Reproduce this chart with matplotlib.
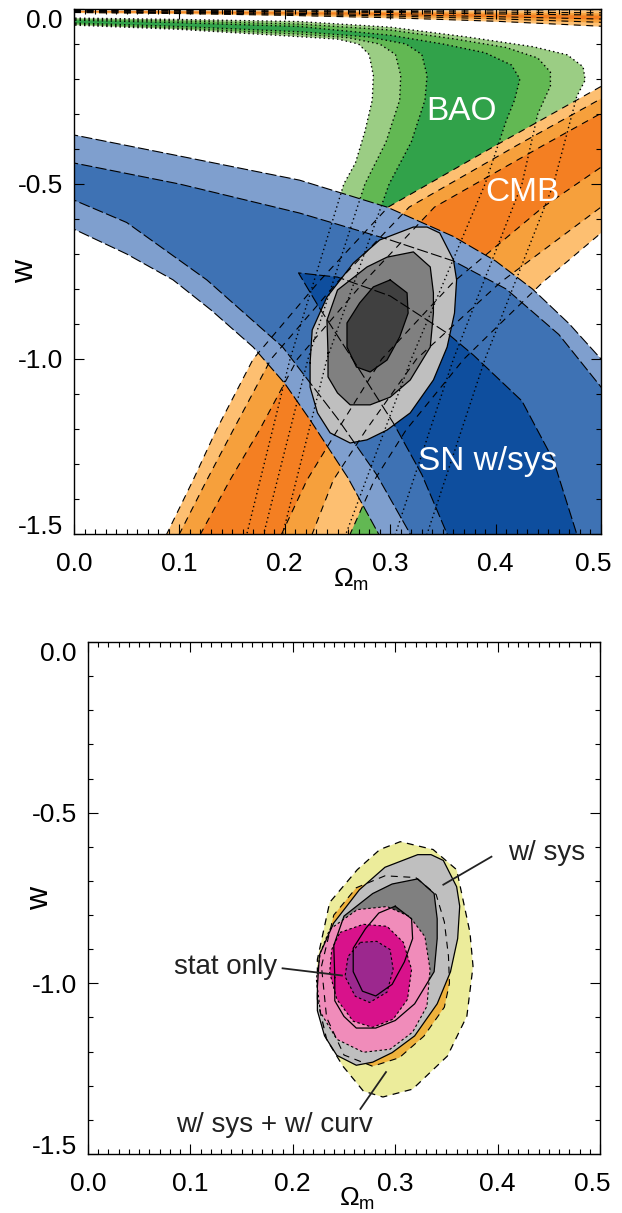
import numpy as np
import matplotlib
matplotlib.use("Agg")
import matplotlib.pyplot as plt
from matplotlib.ticker import FixedLocator, MultipleLocator
from matplotlib.transforms import ScaledTranslation

plt.rcParams['font.family'] = 'Liberation Sans'
plt.rcParams['mathtext.fontset'] = 'custom'
plt.rcParams['mathtext.rm'] = 'Liberation Sans'
plt.rcParams['lines.scale_dashes'] = False

# axis ticks
XTICKS = [0.0, 0.1, 0.2, 0.3, 0.4, 0.5]
XLABELS = ['0.0', '0.1', '0.2', '0.3', '0.4', '0.5']
YTICKS = [0.0, -0.5, -1.0, -1.5]
YLABELS = ['0.0', '-0.5', '-1.0', '-1.5']

# ---- SN w/sys contours, (Omega_m, w) along each boundary ----
SN_U3 = [(-0.02, -0.35), (0.0, -0.36), (0.1, -0.42), (0.214, -0.489), (0.297, -0.566),
         (0.36, -0.65), (0.40, -0.72), (0.435, -0.80), (0.47, -0.90), (0.50, -1.00),
         (0.53, -1.12), (0.58, -1.35), (0.62, -1.65)]
SN_U2 = [(-0.02, -0.43), (0.0, -0.44), (0.1, -0.50), (0.214, -0.583), (0.30, -0.66),
         (0.36, -0.72), (0.41, -0.80), (0.46, -0.93), (0.50, -1.08), (0.54, -1.28),
         (0.58, -1.65)]
SN_U1 = [(0.213, -0.754), (0.25, -0.766), (0.30, -0.82), (0.354, -0.926), (0.379, -0.989),
         (0.425, -1.12), (0.455, -1.29), (0.477, -1.50), (0.49, -1.65)]
SN_L1 = [(0.213, -0.754), (0.232, -0.85), (0.26, -0.98), (0.303, -1.183), (0.33, -1.33),
         (0.354, -1.50), (0.365, -1.65)]
SN_L2 = [(-0.02, -0.52), (0.0, -0.546), (0.05, -0.61), (0.126, -0.774), (0.198, -0.966),
         (0.25, -1.17), (0.287, -1.33), (0.319, -1.50), (0.33, -1.65)]
SN_L3 = [(-0.02, -0.60), (0.0, -0.629), (0.05, -0.70), (0.094, -0.774), (0.13, -0.86),
         (0.17, -0.966), (0.20, -1.07), (0.224, -1.174), (0.26, -1.34), (0.289, -1.50),
         (0.30, -1.65)]

# ---- CMB contours ----
CMB_A3 = [(0.072, -1.6), (0.088, -1.5), (0.113, -1.346), (0.135, -1.203), (0.17, -1.0),
          (0.232, -0.78), (0.298, -0.566), (0.40, -0.39), (0.499, -0.223), (0.56, -0.13)]
CMB_A2 = [(0.085, -1.6), (0.10, -1.5), (0.126, -1.346), (0.151, -1.203), (0.187, -1.0),
          (0.25, -0.78), (0.318, -0.566), (0.42, -0.39), (0.52, -0.223), (0.58, -0.13)]
CMB_A1 = [(0.105, -1.6), (0.12, -1.5), (0.148, -1.346), (0.176, -1.203), (0.212, -1.0),
          (0.275, -0.78), (0.342, -0.566), (0.445, -0.39), (0.545, -0.223), (0.60, -0.13)]
CMB_B1 = [(0.182, -1.6), (0.197, -1.5), (0.221, -1.346), (0.25, -1.203), (0.292, -1.0),
          (0.36, -0.78), (0.445, -0.566), (0.53, -0.39), (0.60, -0.25)]
CMB_B2 = [(0.21, -1.6), (0.226, -1.5), (0.246, -1.346), (0.277, -1.203), (0.325, -1.0),
          (0.405, -0.78), (0.50, -0.566), (0.58, -0.39), (0.63, -0.28)]
CMB_B3 = [(0.245, -1.6), (0.262, -1.5), (0.285, -1.346), (0.315, -1.203), (0.37, -1.0),
          (0.445, -0.78), (0.50, -0.64), (0.53, -0.566), (0.61, -0.39), (0.66, -0.30)]
# thin CMB sliver along w ~ 0
CMB_TOP_OM = [0.0, 0.1, 0.2, 0.3, 0.4, 0.52]
CMB_TOP3_HI = [-0.003, -0.003, -0.003, -0.003, -0.003, -0.002]
CMB_TOP2_HI = [-0.004, -0.005, -0.006, -0.007, -0.009, -0.011]
CMB_TOP1_HI = [-0.005, -0.006, -0.008, -0.010, -0.014, -0.018]
CMB_TOP1_LO = [-0.007, -0.009, -0.012, -0.016, -0.022, -0.030]
CMB_TOP2_LO = [-0.008, -0.011, -0.015, -0.020, -0.028, -0.040]
CMB_TOP3_LO = [-0.010, -0.013, -0.018, -0.025, -0.035, -0.052]

# ---- BAO contours ----
BAO_R3 = [(-0.02, -0.025), (0.0, -0.026), (0.1, -0.03), (0.214, -0.036), (0.30, -0.052),
          (0.373, -0.08), (0.436, -0.108), (0.468, -0.131), (0.483, -0.165), (0.485, -0.203),
          (0.477, -0.25), (0.455, -0.5), (0.39, -1.0), (0.335, -1.5), (0.325, -1.6)]
BAO_R2 = [(-0.02, -0.028), (0.0, -0.029), (0.1, -0.034), (0.214, -0.043), (0.30, -0.06),
          (0.36, -0.085), (0.41, -0.11), (0.44, -0.14), (0.452, -0.18), (0.452, -0.22),
          (0.44, -0.30), (0.425, -0.5), (0.36, -1.0), (0.305, -1.5), (0.295, -1.6)]
BAO_R1 = [(-0.02, -0.031), (0.0, -0.032), (0.1, -0.039), (0.214, -0.05), (0.30, -0.075),
          (0.35, -0.10), (0.39, -0.125), (0.415, -0.16), (0.423, -0.20), (0.418, -0.26),
          (0.41, -0.32), (0.39, -0.5), (0.32, -1.0), (0.258, -1.5), (0.245, -1.6)]
BAO_L1 = [(-0.02, -0.039), (0.0, -0.040), (0.1, -0.05), (0.214, -0.065), (0.28, -0.08),
          (0.315, -0.10), (0.33, -0.13), (0.335, -0.19), (0.333, -0.26), (0.32, -0.38),
          (0.299, -0.5), (0.24, -1.0), (0.198, -1.5), (0.19, -1.6)]
BAO_L2 = [(-0.02, -0.042), (0.0, -0.043), (0.1, -0.055), (0.214, -0.072), (0.26, -0.082),
          (0.29, -0.10), (0.305, -0.13), (0.31, -0.19), (0.309, -0.26), (0.296, -0.38),
          (0.276, -0.5), (0.222, -1.0), (0.18, -1.5), (0.172, -1.6)]
BAO_L3 = [(-0.02, -0.045), (0.0, -0.046), (0.1, -0.058), (0.214, -0.079), (0.25, -0.086),
          (0.27, -0.10), (0.28, -0.13), (0.284, -0.19), (0.283, -0.26), (0.276, -0.35),
          (0.267, -0.44), (0.256, -0.5), (0.205, -1.0), (0.164, -1.5), (0.155, -1.6)]

# ---- combined SN+BAO+CMB w/ sys (closed contours) ----
GRAY3 = [(0.224, -1.011), (0.224, -1.08), (0.231, -1.154), (0.243, -1.211), (0.262, -1.24),
         (0.278, -1.231), (0.297, -1.203), (0.319, -1.154), (0.341, -1.06), (0.354, -0.966),
         (0.361, -0.869), (0.363, -0.774), (0.36, -0.717), (0.347, -0.64), (0.335, -0.623),
         (0.322, -0.623), (0.29, -0.66), (0.265, -0.726), (0.24, -0.823), (0.226, -0.917)]
GRAY2 = [(0.241, -0.983), (0.241, -1.051), (0.25, -1.097), (0.262, -1.131), (0.281, -1.131),
         (0.30, -1.109), (0.319, -1.06), (0.338, -0.966), (0.341, -0.869), (0.341, -0.811),
         (0.338, -0.737), (0.322, -0.694), (0.297, -0.709), (0.278, -0.737), (0.25, -0.803),
         (0.24, -0.889)]
GRAY1 = [(0.30, -0.774), (0.316, -0.811), (0.317, -0.869), (0.309, -0.937), (0.297, -1.003),
         (0.281, -1.037), (0.268, -1.023), (0.259, -0.966), (0.259, -0.897), (0.271, -0.84),
         (0.284, -0.794)]

# ---- stat only ----
STAT3 = [(0.236, -0.842), (0.263, -0.784), (0.292, -0.775), (0.314, -0.804), (0.329, -0.863),
         (0.334, -0.959), (0.331, -1.067), (0.317, -1.143), (0.295, -1.193), (0.269, -1.202),
         (0.243, -1.164), (0.227, -1.085), (0.223, -0.988), (0.227, -0.909)]
STAT2 = [(0.246, -0.851), (0.269, -0.827), (0.292, -0.833), (0.308, -0.880), (0.316, -0.959),
         (0.312, -1.047), (0.298, -1.105), (0.278, -1.129), (0.259, -1.111), (0.243, -1.047),
         (0.236, -0.968), (0.238, -0.901)]
STAT1 = [(0.266, -0.880), (0.282, -0.877), (0.295, -0.901), (0.298, -0.959), (0.292, -1.026),
         (0.275, -1.056), (0.261, -1.038), (0.251, -0.980), (0.254, -0.921)]

# ---- w/ sys + w/ curvature ----
CURV2 = [(0.224, -1.047), (0.224, -0.930), (0.236, -0.763), (0.263, -0.667), (0.285, -0.608),
         (0.305, -0.585), (0.337, -0.608), (0.360, -0.667), (0.373, -0.851), (0.376, -0.950),
         (0.370, -1.096), (0.351, -1.213), (0.317, -1.310), (0.288, -1.333), (0.269, -1.316),
         (0.249, -1.243), (0.233, -1.164)]
CURV1 = [(0.228, -0.95), (0.24, -0.80), (0.262, -0.72), (0.29, -0.685), (0.32, -0.69),
         (0.34, -0.74), (0.348, -0.82), (0.352, -0.92), (0.353, -1.0), (0.348, -1.07),
         (0.328, -1.155), (0.304, -1.218), (0.278, -1.243), (0.25, -1.21), (0.233, -1.1)]

BLUES = ['#7f9fce', '#3e72b4', '#0e4e9e']
ORANGES = ['#fdbf71', '#f6a03c', '#f47f22']
GREENS = ['#9bcd84', '#62b853', '#31a24a']
GRAYS = ['#bfbfbf', '#808080', '#404040']
PINKS = ['#f08cba', '#d8128b', '#9c288e']
YELLOWS = ['#ecec9b', '#efb23c']

SN_DASH = (8.0, 2.4)
CMB_DASH = (5.0, 4.0)
BAO_DOT = (1.0, 2.2)
STAT_DOT = (1.8, 1.8)


def arr(pts):
    return np.asarray(pts, dtype=float)


def band(ax, a, b, color):
    p = np.vstack([arr(a), arr(b)[::-1]])
    ax.fill(p[:, 0], p[:, 1], color=color, lw=0)


def blob(ax, pts, color):
    p = arr(pts)
    ax.fill(p[:, 0], p[:, 1], color=color, lw=0)


def edge(ax, pts, dashes=None, closed=False, lw=0.8):
    p = arr(pts)
    if closed:
        p = np.vstack([p, p[:1]])
    if dashes is None:
        ax.plot(p[:, 0], p[:, 1], color='k', lw=lw)
    else:
        ax.plot(p[:, 0], p[:, 1], color='k', lw=lw, dashes=dashes)


def frame(ax, fig):
    ax.set_xlim(0, 0.5)
    ax.set_ylim(-1.5, 0)
    ax.tick_params(which='both', direction='in', top=True, right=True,
                   width=0.8, labelsize=19)
    ax.tick_params(which='major', length=7.5)
    ax.tick_params(which='minor', length=3.8)
    ax.tick_params(axis='x', pad=13)
    ax.tick_params(axis='y', pad=8)
    ax.xaxis.set_major_locator(FixedLocator(XTICKS))
    ax.set_xticklabels(XLABELS)
    ax.yaxis.set_major_locator(FixedLocator(YTICKS))
    ax.set_yticklabels(YLABELS)
    ax.xaxis.set_minor_locator(MultipleLocator(0.01))
    ax.yaxis.set_minor_locator(MultipleLocator(0.1))
    for s in ax.spines.values():
        s.set_linewidth(1.0)
    ylab = ax.get_yticklabels()
    ylab[0].set_va('top')
    ylab[-1].set_va('baseline')
    xlab = ax.get_xticklabels()
    xlab[-1].set_transform(xlab[-1].get_transform() +
                           ScaledTranslation(-0.08, 0, fig.dpi_scale_trans))
    ax.text(-0.093, 0.5, 'w', transform=ax.transAxes, rotation=90,
            fontsize=23, ha='center', va='center')
    ax.text(0.525, -0.088, r'$\mathrm{\Omega_m}$', transform=ax.transAxes,
            fontsize=19, ha='center', va='center')


fig = plt.figure(figsize=(6.22, 12.13), dpi=100)
ax1 = fig.add_axes([74 / 622, 1 - 534 / 1213, 527 / 622, 525 / 1213])
ax2 = fig.add_axes([88 / 622, 1 - 1154 / 1213, 512 / 622, 512 / 1213])

# ---------- top panel: individual probes + combined ----------
for a, b, c in [(BAO_R3, BAO_L3, GREENS[0]), (BAO_R2, BAO_L2, GREENS[1]),
                (BAO_R1, BAO_L1, GREENS[2])]:
    band(ax1, a, b, c)

for a, b, c in [(CMB_A3, CMB_B3, ORANGES[0]), (CMB_A2, CMB_B2, ORANGES[1]),
                (CMB_A1, CMB_B1, ORANGES[2])]:
    band(ax1, a, b, c)
for hi, lo, c in [(CMB_TOP3_HI, CMB_TOP3_LO, ORANGES[0]),
                  (CMB_TOP2_HI, CMB_TOP2_LO, ORANGES[1]),
                  (CMB_TOP1_HI, CMB_TOP1_LO, ORANGES[2])]:
    ax1.fill_between(CMB_TOP_OM, lo, hi, color=c, lw=0)

band(ax1, SN_U3, SN_L3, BLUES[0])
band(ax1, SN_U2, SN_L2, BLUES[1])
band(ax1, SN_U1, SN_L1, BLUES[2])

for g, c in zip([GRAY3, GRAY2, GRAY1], GRAYS):
    blob(ax1, g, c)

# contour outlines on top of all fills
for cur in [BAO_R3, BAO_R2, BAO_R1, BAO_L1, BAO_L2, BAO_L3]:
    edge(ax1, cur, BAO_DOT, lw=1.0)
for cur in [CMB_A3, CMB_A2, CMB_A1, CMB_B1, CMB_B2, CMB_B3]:
    edge(ax1, cur, CMB_DASH)
for w in [CMB_TOP3_HI, CMB_TOP2_HI, CMB_TOP1_HI, CMB_TOP1_LO, CMB_TOP2_LO, CMB_TOP3_LO]:
    ax1.plot(CMB_TOP_OM, w, color='k', lw=0.8, dashes=CMB_DASH)
for cur in [SN_U3, SN_U2, SN_L2, SN_L3]:
    edge(ax1, cur, SN_DASH)
edge(ax1, np.vstack([arr(SN_L1)[::-1], arr(SN_U1)[1:]]), SN_DASH)
for g in [GRAY3, GRAY2, GRAY1]:
    edge(ax1, g, closed=True, lw=0.9)

ax1.text(0.368, -0.294, 'BAO', color='white', fontsize=24, ha='center', va='center')
ax1.text(0.425, -0.523, 'CMB', color='white', fontsize=24, ha='center', va='center')
ax1.text(0.392, -1.294, 'SN w/sys', color='white', fontsize=24, ha='center', va='center')
frame(ax1, fig)

# ---------- bottom panel: stat only vs w/ sys vs w/ sys + curvature ----------
blob(ax2, CURV2, YELLOWS[0])
blob(ax2, CURV1, YELLOWS[1])
for g, c in zip([GRAY3, GRAY2, GRAY1], GRAYS):
    blob(ax2, g, c)
for s, c in zip([STAT3, STAT2, STAT1], PINKS):
    blob(ax2, s, c)

edge(ax2, CURV2, CMB_DASH, closed=True, lw=0.9)
edge(ax2, CURV1, CMB_DASH, closed=True, lw=0.8)
for g in [GRAY3, GRAY2, GRAY1]:
    edge(ax2, g, closed=True, lw=0.9)
for s in [STAT3, STAT2, STAT1]:
    edge(ax2, s, STAT_DOT, closed=True, lw=0.8)

ink = '#222222'
ax2.plot([0.347, 0.394], [-0.711, -0.629], color=ink, lw=1.3)
ax2.text(0.448, -0.617, 'w/ sys', color=ink, fontsize=20, ha='center', va='center')
ax2.plot([0.190, 0.248], [-0.956, -0.977], color=ink, lw=1.3)
ax2.text(0.134, -0.953, 'stat only', color=ink, fontsize=20, ha='center', va='center')
ax2.plot([0.266, 0.291], [-1.368, -1.260], color=ink, lw=1.3)
ax2.text(0.182, -1.415, 'w/ sys + w/ curv', color=ink, fontsize=20, ha='center', va='center')
frame(ax2, fig)

fig.savefig('out.png', dpi=100)
